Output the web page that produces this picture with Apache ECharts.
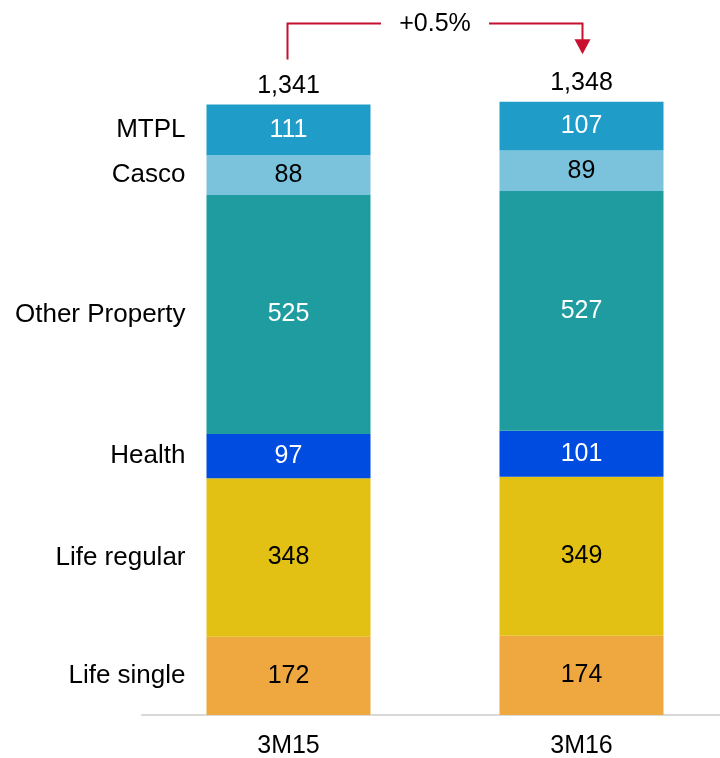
<!DOCTYPE html>
<html>
<head>
<meta charset="utf-8">
<script src="https://cdn.jsdelivr.net/npm/echarts@6.0.0/dist/echarts.min.js"></script>
<style>
  html, body { margin: 0; padding: 0; background: #fff; }
  #chart { width: 720px; height: 758px; }
</style>
</head>
<body>
<div id="chart"></div>
<script>
const categories = ['3M15', '3M16']
const lifeSingle = [172, 174]
const lifeRegular = [348, 349]
const health = [97, 101]
const otherProperty = [525, 527]
const casco = [88, 89]
const mtpl = [111, 107]
const totals = [1341, 1348]

const FONT = '"Liberation Sans", Arial, sans-serif'
const FS = 25

// bottom -> top
const segments = [
  { name: 'Life single', data: lifeSingle, color: '#efa83f', text: '#000' },
  { name: 'Life regular', data: lifeRegular, color: '#e3c014', text: '#000' },
  { name: 'Health', data: health, color: '#004be0', text: '#fff' },
  { name: 'Other Property', data: otherProperty, color: '#1f9c9f', text: '#fff' },
  { name: 'Casco', data: casco, color: '#7bc3dc', text: '#000' },
  { name: 'MTPL', data: mtpl, color: '#1f9dc8', text: '#fff' },
]

const series = []
segments.forEach(s => {
  series.push({
    name: s.name,
    type: 'bar',
    stack: 'values',
    barWidth: 164,
    barGap: '-100%',
    data: s.data,
    itemStyle: { color: s.color },
    label: {
      show: true,
      position: 'inside',
      color: s.text,
      fontSize: FS,
      fontFamily: FONT,
    },
  })
})
// invisible copy, only to put the segment names left of the first bar
segments.forEach(s => {
  series.push({
    name: s.name + ' name',
    type: 'bar',
    stack: 'names',
    barWidth: 164,
    barGap: '-100%',
    data: s.data,
    itemStyle: { color: 'transparent' },
    silent: true,
    label: {
      show: true,
      position: 'left',
      distance: 21,
      color: '#000',
      fontSize: 26,
      fontFamily: FONT,
      formatter: p => (p.dataIndex === 0 ? s.name : ''),
    },
  })
})
series.push({
  name: 'Total',
  type: 'line',
  data: totals,
  symbolSize: 0,
  lineStyle: { opacity: 0 },
  silent: true,
  label: {
    show: true,
    position: 'top',
    distance: 6,
    color: '#000',
    fontSize: FS,
    fontFamily: FONT,
    formatter: p => p.value.toLocaleString('en-US'),
  },
})

const chart = echarts.init(document.getElementById('chart'))
chart.setOption({
  backgroundColor: '#fff',
  animation: false,
  grid: { left: 142, right: -8, top: 32, bottom: 43, outerBoundsMode: 'none' },
  xAxis: {
    type: 'category',
    data: categories,
    axisLine: { lineStyle: { color: '#d9d9d9', width: 2 } },
    axisTick: { show: false },
    axisLabel: { color: '#000', fontSize: FS, fontFamily: FONT, margin: 19 },
  },
  yAxis: { type: 'value', min: 0, max: 1500, show: false, splitLine: { show: false } },
  series,
})

// growth arrow between the two totals
const p1 = chart.convertToPixel({ gridIndex: 0 }, [categories[0], totals[0]])
const p2 = chart.convertToPixel({ gridIndex: 0 }, [categories[1], totals[1]])
const yTop = p1[1] - 81
const mid = (p1[0] + p2[0]) / 2
const gap = 54
const growth = ((totals[1] - totals[0]) / totals[0] * 100).toFixed(1)
const tipY = p2[1] - 47
const red = '#c8102e'
chart.setOption({
  graphic: [
    {
      type: 'polyline',
      shape: { points: [[p1[0] - 1, p1[1] - 45], [p1[0] - 1, yTop], [mid - gap, yTop]] },
      style: { stroke: red, lineWidth: 2, fill: null },
    },
    {
      type: 'polyline',
      shape: { points: [[mid + gap, yTop], [p2[0] + 1, yTop], [p2[0] + 1, tipY - 14]] },
      style: { stroke: red, lineWidth: 2, fill: null },
    },
    {
      type: 'polygon',
      shape: { points: [[p2[0] - 7, tipY - 15], [p2[0] + 9, tipY - 15], [p2[0] + 1, tipY]] },
      style: { fill: red },
    },
    {
      type: 'text',
      style: {
        text: '+' + growth + '%',
        x: mid,
        y: yTop + 1,
        align: 'center',
        verticalAlign: 'middle',
        fontSize: FS,
        fontFamily: FONT,
        fill: '#000',
      },
    },
  ],
})
</script>
</body>
</html>
